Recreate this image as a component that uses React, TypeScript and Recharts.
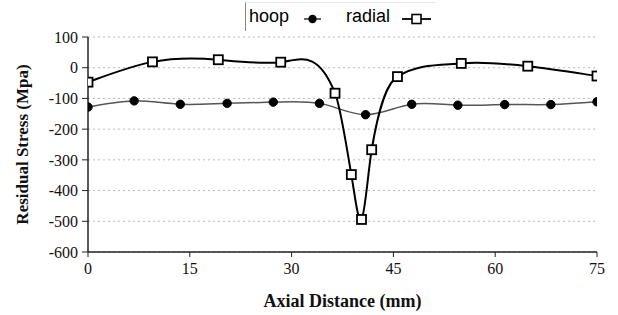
import React from "react";
import { LineChart, Line, XAxis, YAxis, CartesianGrid } from "recharts";

// values
const hoopX = [0, 6.8, 13.6, 20.5, 27.3, 34.1, 40.9, 47.7, 54.5, 61.4, 68.2, 75];
const hoopY = [-128, -108, -119, -116, -112, -116, -153, -119, -122, -120, -120, -111];
const radialX = [0, 9.5, 19.2, 28.4, 36.4, 38.8, 40.3, 41.8, 45.6, 55, 64.8, 75];
const radialY = [-47, 19, 26, 18, -83, -348, -494, -267, -29, 14, 5, -27];
const xTicks = [0, 15, 30, 45, 60, 75];
const yTicks = [-600, -500, -400, -300, -200, -100, 0, 100];

const hoopData = hoopX.map((x, i) => ({ x, y: hoopY[i] }));
const radialData = radialX.map((x, i) => ({ x, y: radialY[i] }));

const serif = "'Liberation Serif', 'Times New Roman', serif";
const sans = "'Liberation Sans', Arial, sans-serif";

// slopes at the knots of a natural cubic spline y(x)
function naturalSlopes(x: number[], y: number[]) {
  const n = y.length;
  const h: number[] = [];
  for (let i = 0; i < n - 1; i++) h[i] = x[i + 1] - x[i];
  const m = n - 2;
  const a: number[] = [], b: number[] = [], c: number[] = [], d: number[] = [];
  for (let k = 0; k < m; k++) {
    const i = k + 1;
    a[k] = h[i - 1];
    b[k] = 2 * (h[i - 1] + h[i]);
    c[k] = h[i];
    d[k] = 6 * ((y[i + 1] - y[i]) / h[i] - (y[i] - y[i - 1]) / h[i - 1]);
  }
  for (let k = 1; k < m; k++) {
    const w = a[k] / b[k - 1];
    b[k] -= w * c[k - 1];
    d[k] -= w * d[k - 1];
  }
  const M = new Array(n).fill(0);
  M[m] = d[m - 1] / b[m - 1];
  for (let k = m - 2; k >= 0; k--) M[k + 1] = (d[k] - c[k] * M[k + 2]) / b[k];
  const s: number[] = [];
  for (let i = 0; i < n - 1; i++) {
    s[i] = (y[i + 1] - y[i]) / h[i] - (h[i] * (2 * M[i] + M[i + 1])) / 6;
  }
  const j = n - 2;
  s[n - 1] = (y[j + 1] - y[j]) / h[j] + (h[j] * (M[j] + 2 * M[j + 1])) / 6;
  return s;
}

// smoothed line: half natural spline, half Catmull-Rom slopes
function smoothCurve(context: any) {
  let pts: number[][] = [];
  return {
    areaStart() {},
    areaEnd() {},
    lineStart() {
      pts = [];
    },
    point(x: number, y: number) {
      pts.push([+x, +y]);
    },
    lineEnd() {
      const n = pts.length;
      if (!n) return;
      context.moveTo(pts[0][0], pts[0][1]);
      if (n < 3) {
        for (let i = 1; i < n; i++) context.lineTo(pts[i][0], pts[i][1]);
        return;
      }
      const xs = pts.map((p) => p[0]);
      const ys = pts.map((p) => p[1]);
      const nat = naturalSlopes(xs, ys);
      const slope = nat.map((v, i) => {
        if (i === 0 || i === n - 1) return v;
        const cr = (ys[i + 1] - ys[i - 1]) / (xs[i + 1] - xs[i - 1]);
        return 0.5 * v + 0.5 * cr;
      });
      for (let i = 0; i < n - 1; i++) {
        const h = (xs[i + 1] - xs[i]) / 3;
        context.bezierCurveTo(
          xs[i] + h,
          ys[i] + h * slope[i],
          xs[i + 1] - h,
          ys[i + 1] - h * slope[i + 1],
          xs[i + 1],
          ys[i + 1]
        );
      }
    },
  };
}

const SquareDot = (props: any) => {
  const { cx, cy, index } = props;
  if (cx == null || cy == null) return <g key={`e-${index}`} />;
  return (
    <rect
      key={`sq-${index}`}
      x={cx - 4.5}
      y={cy - 4.5}
      width={9}
      height={9}
      fill="#fff"
      stroke="#000"
      strokeWidth={1.8}
    />
  );
};

const LegendBox = () => (
  <div
    style={{
      position: "absolute",
      left: 245,
      top: 2,
      width: 190,
      height: 28,
      borderLeft: "1px solid #888",
      borderTop: "1px solid #e8e8e8",
      fontFamily: sans,
      fontSize: 18,
      color: "#000",
    }}
  >
    <span style={{ position: "absolute", left: 3, top: 3 }}>hoop</span>
    <svg width={20} height={12} style={{ position: "absolute", left: 57, top: 10 }}>
      <line x1={1} y1={6} x2={18} y2={6} stroke="#333" strokeWidth={1.5} />
      <circle cx={9.5} cy={6} r={4.2} fill="#000" />
    </svg>
    <span style={{ position: "absolute", left: 100, top: 3 }}>radial</span>
    <svg width={32} height={14} style={{ position: "absolute", left: 155, top: 9 }}>
      <line x1={1} y1={7} x2={30} y2={7} stroke="#000" strokeWidth={1.8} />
      <rect x={11} y={2.5} width={9} height={9} fill="#fff" stroke="#000" strokeWidth={1.6} />
    </svg>
  </div>
);

export default function App() {
  return (
    <div
      style={{
        position: "absolute",
        left: 0,
        top: 0,
        width: 618,
        height: 315,
        background: "#fff",
      }}
    >
      <LineChart
        width={618}
        height={315}
        margin={{ top: 37, right: 21, left: 0, bottom: 1 }}
      >
        <CartesianGrid
          horizontal
          vertical={false}
          stroke="#bbb"
          strokeDasharray="2 3"
        />
        <XAxis
          type="number"
          dataKey="x"
          domain={[0, 75]}
          ticks={xTicks}
          allowDataOverflow
          height={62}
          axisLine={{ stroke: "#222", strokeWidth: 1.5 }}
          tickLine={{ stroke: "#222" }}
          tickSize={5}
          tickMargin={6}
          tick={{ fill: "#111", fontSize: 16, fontFamily: serif }}
          label={{
            value: "Axial Distance (mm)",
            position: "insideBottom",
            offset: 7,
            style: { fontFamily: serif, fontSize: 18, fontWeight: "bold", fill: "#111" },
          }}
        />
        <YAxis
          type="number"
          dataKey="y"
          domain={[-600, 100]}
          ticks={yTicks}
          allowDataOverflow
          width={88}
          axisLine={{ stroke: "#222", strokeWidth: 1.5 }}
          tickLine={{ stroke: "#222" }}
          tickSize={6}
          tickMargin={4}
          tick={{ fill: "#111", fontSize: 16, fontFamily: serif }}
          label={{
            value: "Residual Stress (Mpa)",
            angle: -90,
            position: "insideLeft",
            offset: 22,
            style: {
              textAnchor: "middle",
              fontFamily: serif,
              fontSize: 17,
              fontWeight: "bold",
              fill: "#111",
            },
          }}
        />
        <Line
          data={hoopData}
          dataKey="y"
          name="hoop"
          type={smoothCurve as any}
          stroke="#555"
          strokeWidth={1.5}
          dot={{ r: 4.2, fill: "#000", stroke: "#000", strokeWidth: 1 }}
          activeDot={false}
          isAnimationActive={false}
        />
        <Line
          data={radialData}
          dataKey="y"
          name="radial"
          type={smoothCurve as any}
          stroke="#000"
          strokeWidth={2}
          dot={SquareDot}
          activeDot={false}
          isAnimationActive={false}
        />
      </LineChart>
      <LegendBox />
    </div>
  );
}
